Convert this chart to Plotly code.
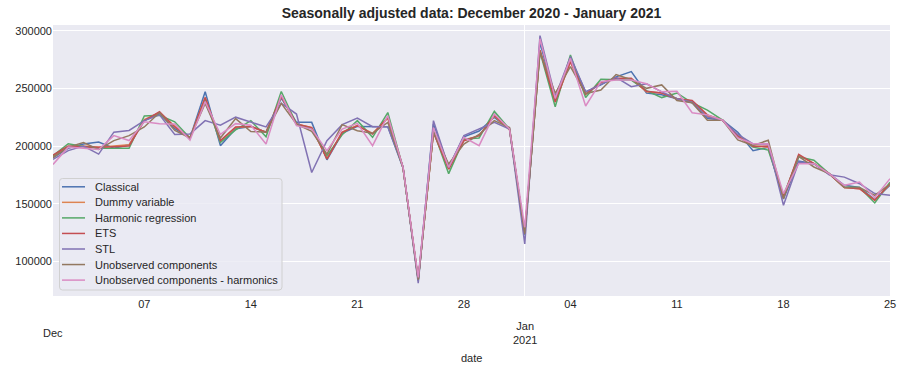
import pandas as pd
import plotly.graph_objects as go

dates = pd.date_range("2020-12-01", "2021-01-25", freq="D")

classical = [190, 198, 201.8, 203.5, 198, 201, 222, 228, 215, 207, 247, 200.3, 215, 217, 212, 241.5,
             220.5, 220.5, 188, 211, 217, 216.8, 216.8, 181, 84, 219, 181.5, 208, 213, 224.9, 214.7,
             123.7, 290, 240, 276, 247, 253, 260, 264.5, 246, 244.4, 241, 237.5, 224, 222.4, 212,
             196, 198.8, 154, 187, 184.7, 176, 165.9, 164, 153.5, 166]
dummy = [191, 199, 200, 199, 200, 201, 223, 229, 217, 207, 242, 204, 216, 217, 212, 243,
         219, 216, 189, 212, 218, 211, 224, 181.5, 84, 212, 180, 205, 209, 226, 214,
         124, 283, 238, 273, 245, 255, 258, 258, 247, 246, 241, 239, 226, 222.4, 209,
         200, 199, 155.5, 192, 185, 176, 164, 163, 153, 167]
harmonic = [191.5, 202, 199.5, 198, 198, 198, 226, 226.7, 221, 207, 240.6, 203, 214, 222, 208, 247.3,
            219, 215, 191.6, 209.8, 222, 207.5, 229, 181, 83, 213, 176, 206, 207, 230, 214.7,
            123, 281.8, 234, 278.9, 242, 257.8, 257.5, 257.2, 248, 242, 246, 237.5, 231.2, 222.4, 208.5,
            199, 196.5, 157, 190.5, 187.6, 176, 164.5, 164, 150.6, 168.5]
ets = [192, 200, 199.4, 199, 199.4, 200, 222, 229.7, 216.5, 207, 242, 204.7, 216.5, 217, 212, 243,
       219, 216, 188.7, 211.8, 217.6, 210.4, 224.8, 181.5, 84, 211.8, 180, 204.6, 209, 226.3, 214.7,
       124, 283, 238.4, 273, 244.8, 255, 258.7, 258.7, 247.5, 246, 241, 239.4, 227, 222.4, 208.5,
       199.5, 200, 155.8, 192.8, 184.7, 176, 163.9, 163, 152.9, 167.3]
stl = [188.5, 196, 200, 193, 212, 213.5, 222, 227, 210, 210.5, 222, 218, 225, 221, 216.5, 237,
       227.7, 177, 204.6, 218.5, 224.3, 216.8, 216.8, 182, 81, 222, 181.5, 209, 214.7, 220.5, 214.7,
       115, 295.7, 242.8, 277.5, 247, 253.5, 259.5, 251.4, 254, 247, 241, 238, 225, 222.4, 210,
       201.8, 201.8, 148.6, 186, 184.7, 175, 173, 167.3, 158.7, 157.2]
uc = [190, 199, 203, 197, 204.7, 209, 216.5, 229, 213.5, 207, 237, 207, 223.8, 212.6, 212, 237,
      219, 212.7, 193, 218.5, 213.3, 211, 220.5, 181, 84, 212, 184.4, 201.7, 210, 222, 216,
      124, 281.8, 245.7, 268.8, 245.5, 248.6, 262, 257.5, 250, 253, 239.4, 237.5, 222.4, 222.4, 205.3,
      200.5, 205, 154.3, 191, 181.8, 176, 164, 164, 157.2, 167]
uc_harm = [184, 199, 198, 197, 209, 204.7, 221, 219.4, 219, 205, 238.5, 210, 219.4, 218, 201.8, 244.4,
           217.6, 214.7, 196, 214.7, 219.6, 200.3, 226.3, 181.5, 86, 216, 181.5, 207.5, 200.3, 227.7, 214.7,
           129.5, 293, 241.3, 276, 234.7, 255.8, 257.2, 257.2, 254, 247, 247.4, 228.8, 227, 222.4, 207,
           202, 201.8, 158.7, 184.7, 184.7, 176, 165.9, 168.8, 155.2, 171.7]

series_names = ["Classical", "Dummy variable", "Harmonic regression", "ETS", "STL",
                "Unobserved components", "Unobserved components - harmonics"]
series_values = [classical, dummy, harmonic, ets, stl, uc, uc_harm]
colors = ["#4C72B0", "#DD8452", "#55A868", "#C44E52", "#8172B3", "#937860", "#DA8BC3"]

week_ticks = ["2020-12-07", "2020-12-14", "2020-12-21", "2020-12-28",
              "2021-01-04", "2021-01-11", "2021-01-18", "2021-01-25"]
week_labels = ["07", "14", "21", "28", "04", "11", "18", "25"]
y_ticks = [100000, 150000, 200000, 250000, 300000]

FONT = "Liberation Sans, Arial, sans-serif"
TXT = "#262626"

# plot-area geometry in pixels (used for legend placement in paper coords)
PL, PR, PT, PB = 53, 890, 25, 296
def px(x):
    return (x - PL) / (PR - PL)
def py(y):
    return (PB - y) / (PB - PT)

fig = go.Figure()
for name, vals, c in zip(series_names, series_values, colors):
    fig.add_trace(go.Scatter(x=dates, y=[v * 1000 for v in vals], mode="lines", name=name,
                             line=dict(color=c, width=1.5), showlegend=False))

fig.update_layout(
    width=903, height=371,
    margin=dict(l=PL, r=903 - PR, t=PT, b=371 - PB, autoexpand=False),
    paper_bgcolor="white", plot_bgcolor="#EAEAF2",
    font=dict(family=FONT, size=11, color=TXT),
    title=dict(text="<b>Seasonally adjusted data: December 2020 - January 2021</b>",
               x=(PL + PR) / 2 / 903, xanchor="center", y=1 - 13 / 371, yanchor="middle",
               font=dict(size=14, family=FONT, color=TXT)),
    showlegend=False,
    xaxis=dict(range=["2020-12-01", "2021-01-25"], tickmode="array", tickvals=week_ticks,
               ticktext=week_labels, showgrid=False, zeroline=False, showline=False, ticks="",
               automargin=False, tickfont=dict(size=11, color=TXT),
               minor=dict(tickmode="array", tickvals=["2021-01-01"], showgrid=True,
                          gridcolor="white", gridwidth=1, ticks="")),
    yaxis=dict(range=[69900, 304950], tickmode="array", tickvals=y_ticks,
               ticktext=[str(v) for v in y_ticks], showgrid=True, gridcolor="white",
               gridwidth=1, zeroline=False, showline=False, ticks="", automargin=False,
               tickfont=dict(size=11, color=TXT)),
)

# legend box (matplotlib-style)
x0, x1, y0, y1, r = 59.5, 282, 178.5, 290, 3
path = (f"M {px(x0 + r)} {py(y0)} L {px(x1 - r)} {py(y0)} Q {px(x1)} {py(y0)} {px(x1)} {py(y0 + r)} "
        f"L {px(x1)} {py(y1 - r)} Q {px(x1)} {py(y1)} {px(x1 - r)} {py(y1)} "
        f"L {px(x0 + r)} {py(y1)} Q {px(x0)} {py(y1)} {px(x0)} {py(y1 - r)} "
        f"L {px(x0)} {py(y0 + r)} Q {px(x0)} {py(y0)} {px(x0 + r)} {py(y0)} Z")
fig.add_shape(type="path", xref="x domain", yref="y domain", path=path,
              fillcolor="rgba(234,234,242,0.8)", line=dict(color="#d0d0d0", width=1), layer="above")
for i, (name, c) in enumerate(zip(series_names, colors)):
    yc = 186.8 + i * 15.55
    fig.add_shape(type="line", xref="x domain", yref="y domain", x0=px(62), x1=px(85),
                  y0=py(yc), y1=py(yc), line=dict(color=c, width=1.5), layer="above")
    fig.add_annotation(x=px(93), y=py(yc), xref="x domain", yref="y domain", text=name,
                       showarrow=False, xanchor="left", yanchor="middle",
                       font=dict(size=11, color=TXT))

fig.add_annotation(x="2020-12-01", y=-0.137, xref="x", yref="paper", text="Dec",
                   showarrow=False, xanchor="center", yanchor="middle", font=dict(size=11, color=TXT))
fig.add_annotation(x="2021-01-01", y=-0.137, xref="x", yref="paper", text="Jan<br>2021",
                   showarrow=False, xanchor="center", yanchor="middle", font=dict(size=11, color=TXT))
fig.add_annotation(x=0.5, y=-0.23, xref="paper", yref="paper", text="date",
                   showarrow=False, xanchor="center", yanchor="middle", font=dict(size=11, color=TXT))

fig.write_html("out.html", config={"displayModeBar": False},
               post_script="document.body.style.margin='0';document.body.style.padding='0';")
